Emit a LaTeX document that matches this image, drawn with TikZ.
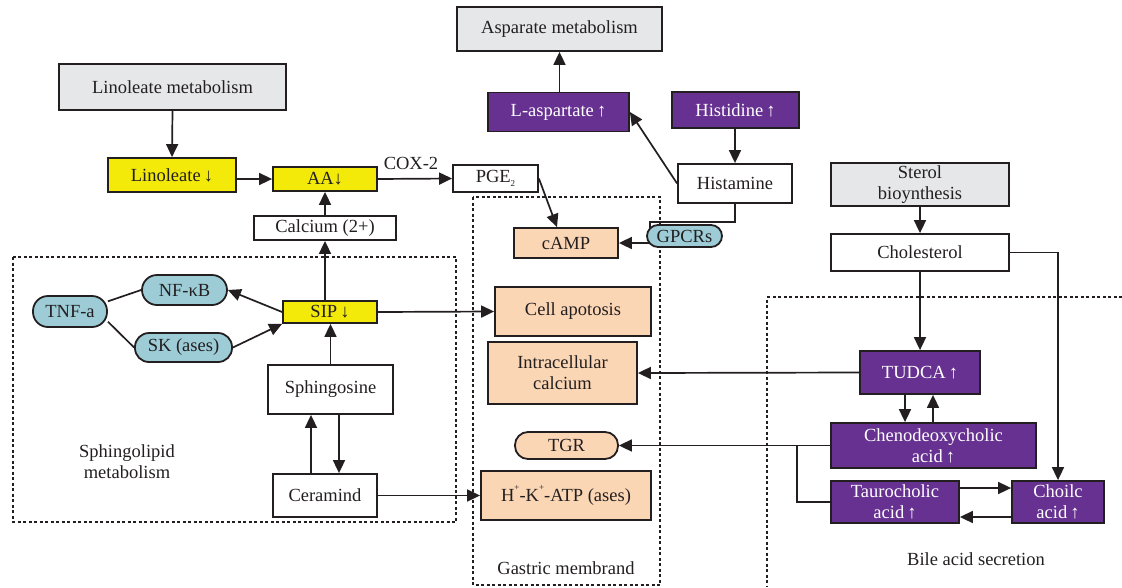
\documentclass[tikz,border=0pt]{standalone}
\usepackage{fontspec}
\setmainfont{Liberation Serif}
\usetikzlibrary{arrows.meta,positioning,calc}
\definecolor{inkgray}{RGB}{35,31,32}
\definecolor{metagray}{RGB}{230,231,232}
\definecolor{uppurple}{RGB}{102,49,145}
\definecolor{downyellow}{RGB}{243,234,10}
\definecolor{peach}{RGB}{251,214,181}
\definecolor{lightblue}{RGB}{157,204,215}
\newcommand{\tinysub}[1]{\raisebox{-0.2em}{\fontsize{9}{9}\selectfont #1}}
\newcommand{\tinysup}[1]{\raisebox{0.55em}{\fontsize{9}{9}\selectfont #1}}
\newcommand{\upmark}{\,{\bfseries ↑}}
\newcommand{\downmark}{\,{\bfseries ↓}}

\begin{document}
\begin{tikzpicture}[x=1pt, y=-1pt,
    every node/.style={font=\fontsize{18.5}{21}\selectfont, text=inkgray},
    box/.style={draw=inkgray, line width=1.8pt, inner sep=0pt, align=center},
    metabox/.style={box, fill=metagray},
    upbox/.style={box, fill=uppurple, text=white},
    downbox/.style={box, fill=downyellow},
    cellbox/.style={box, fill=peach},
    plainbox/.style={box, fill=white},
    pill/.style={box, rounded corners=12pt},
    arr/.style={-{Triangle[length=13pt,width=12pt]}, line width=1.7pt, draw=inkgray},
    link/.style={line width=1.7pt, draw=inkgray},
    region/.style={line width=1.6pt, dash pattern=on 3pt off 2.5pt, draw=inkgray}
]
    \useasboundingbox (0,0) rectangle (1122,587);

    % regions
    \draw[region] (13,257) rectangle (456,522);
    \draw[region] (473,197) rectangle (660,585);
    \draw[region] (1122,297) -- (767,297) -- (767,587);
    \node (sphlab) at (127,462) [align=center] {Sphingolipid\\metabolism};
    \node (gaslab) at (566,568) {Gastric membrand};
    \node (bilelab) at (976,559) {Bile acid secretion};

    % top
    \node[metabox, minimum width=205pt, minimum height=44pt] (aspmet) at (559.5,29) {Asparate metabolism};
    \node[upbox, minimum width=141pt, minimum height=39pt] (lasp) at (558.5,112) {L-aspartate\upmark};
    \node[upbox, minimum width=127pt, minimum height=36pt] (histid) at (735.5,110) {Histidine\upmark};
    \node[plainbox, minimum width=114pt, minimum height=39pt] (histam) at (735,183.5) {Histamine};
    \node[metabox, minimum width=227pt, minimum height=46pt] (linmet) at (172.5,87) {Linoleate metabolism};
    \node[downbox, minimum width=128pt, minimum height=34pt] (linol) at (172,175) {Linoleate\downmark};
    \node[downbox, minimum width=104pt, minimum height=24pt] (aa) at (325,179) {AA{\bfseries ↓}};
    \node[plainbox, minimum width=85pt, minimum height=27pt] (pge) at (495.5,178.5) {PGE\tinysub{2}};
    \node[plainbox, minimum width=142pt, minimum height=24pt] (calc) at (325,228) {Calcium (2+)};
    \node[cellbox, minimum width=104pt, minimum height=30pt] (camp) at (566,243) {cAMP};

    % sphingolipid
    \node[pill, fill=lightblue, minimum width=74pt, minimum height=31pt, rounded corners=15pt] (tnf) at (70,311.5) {TNF-a};
    \node[pill, fill=lightblue, minimum width=85pt, minimum height=30pt, rounded corners=15pt] (nfkb) at (184.5,290) {NF-κB};
    \node[pill, fill=lightblue, minimum width=97pt, minimum height=29pt, rounded corners=14pt] (sk) at (183.5,347.5) {SK (ases)};
    \node[downbox, minimum width=94pt, minimum height=22pt] (sip) at (330,312) {SIP\downmark};
    \node[plainbox, minimum width=125pt, minimum height=49pt] (sphing) at (330.5,389.5) {Sphingosine};
    \node[plainbox, minimum width=104pt, minimum height=43pt] (ceram) at (325,495.5) {Ceramind};

    % gastric membrand
    \node[cellbox, minimum width=156pt, minimum height=49pt] (apop) at (573,311.5) {Cell apotosis};
    \node[cellbox, minimum width=149pt, minimum height=62pt] (incal) at (562.5,373) {Intracellular\\calcium};
    \node[pill, fill=peach, minimum width=103pt, minimum height=27pt, rounded corners=13pt] (tgr) at (566.5,445.5) {TGR};
    \node[cellbox, minimum width=170pt, minimum height=49pt] (hka) at (566,495.5) {H\tinysup{+}-K\tinysup{+}-ATP (ases)};

    % bile acid
    \node[metabox, minimum width=178pt, minimum height=43pt] (sterol) at (920,184.5) {Sterol\\bioynthesis};
    \node[plainbox, minimum width=178pt, minimum height=37pt] (chol) at (920,252.5) {Cholesterol};
    \node[upbox, minimum width=120pt, minimum height=43pt] (tudca) at (920,372.5) {TUDCA\upmark};
    \node[upbox, minimum width=205pt, minimum height=45pt] (cheno) at (933.5,445.5) {Chenodeoxycholic\\acid\upmark};
    \node[upbox, minimum width=128pt, minimum height=42pt] (tauro) at (895,502) {Taurocholic\\acid\upmark};
    \node[upbox, minimum width=92pt, minimum height=42pt] (choilc) at (1058,502) {Choilc\\acid\upmark};

    % connectors
    \draw[arr] (aspmet.south |- lasp.north) -- (aspmet.south);
    \draw[arr] (histam.north |- histid.south) -- (histam.north);
    \draw[arr] (histam.west) -- (lasp.east);
    \draw[arr] (linmet.south) -- (linol.north);
    \draw[arr] (linol.east |- aa) -- (aa.west);
    \draw[arr] (aa.east) -- (pge.west) node[midway, above=5pt, xshift=-4pt] (cox) {COX-2};
    \draw[arr] (calc.north) -- (aa.south);
    \draw[arr] (calc.south |- sip.north) -- (calc.south);
    \draw[arr] (pge.east) -- ([xshift=-9pt]camp.north);
    \coordinate (gbend) at (650,222);
    \draw[arr] (histam.south) |- (gbend) |- (camp.east);
    \node[pill, fill=lightblue, minimum width=75pt, minimum height=22pt, rounded corners=11pt] (gpcr) at (684.5,236) {GPCRs};

    \draw[arr] (sip.west) -- (nfkb.east);
    \draw[arr] (sk.east) -- (sip.south west);
    \draw[link] (tnf.15) -- (nfkb.west);
    \draw[link] (tnf.-15) -- (sk.west);
    \draw[arr] (sphing.north) -- (sphing.north |- sip.south);
    \draw[arr] ([xshift=-14pt]ceram.north) -- ([xshift=-14pt]ceram.north |- sphing.south);
    \draw[arr] ([xshift=14pt]ceram.north |- sphing.south) -- ([xshift=14pt]ceram.north);
    \draw[arr] (sip.east) -- (apop.west);
    \draw[arr] (ceram.east) -- (hka.west);

    \draw[arr] (sterol.south) -- (chol.north);
    \draw[arr] (chol.south) -- (tudca.north);
    \draw[arr] (chol.east) -| (choilc.north);
    \draw[arr] (tudca.west) -- (incal.east);
    \draw[arr] ([xshift=-15pt]tudca.south) -- ([xshift=-15pt]tudca.south |- cheno.north);
    \draw[arr] ([xshift=13pt]tudca.south |- cheno.north) -- ([xshift=13pt]tudca.south);
    \draw[arr] (cheno.west) -- (tgr.east);
    \coordinate (brk) at (797,445.5);
    \draw[link] (tauro.west) -| (brk);
    \draw[arr] ([yshift=14pt]tauro.east) -- ([yshift=14pt]tauro.east -| choilc.west);
    \draw[arr] ([yshift=-15pt]choilc.west) -- ([yshift=-15pt]choilc.west -| tauro.east);
\end{tikzpicture}
\end{document}
